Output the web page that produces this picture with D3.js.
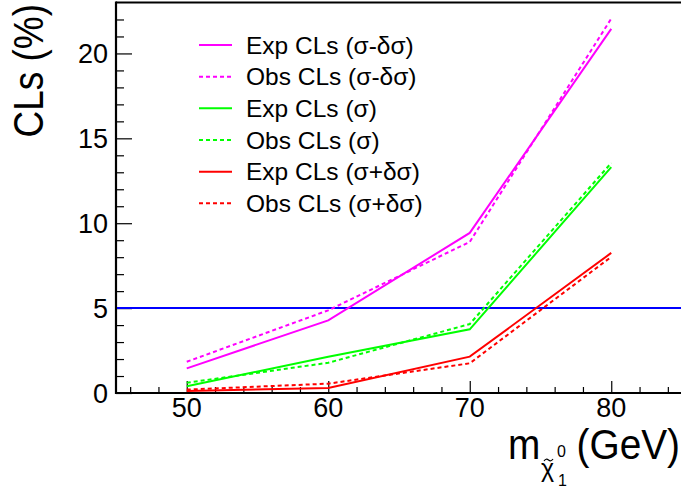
<!DOCTYPE html>
<html><head><meta charset="utf-8">
<script src="https://cdn.jsdelivr.net/npm/d3@7"></script>
<style>body{margin:0;background:#fff}svg{display:block}text{font-family:"Liberation Sans",Arial,sans-serif;fill:#000}</style>
</head><body>
<svg id="c" width="681" height="489"></svg>
<script>
const masses = [50, 60, 70, 80];
const expMinus = [1.45, 4.28, 9.43, 21.45];
const obsMinus = [1.84, 4.87, 8.9, 22.05];
const expNom = [0.4, 2.14, 3.75, 13.3];
const obsNom = [0.6, 1.78, 4.06, 13.55];
const expPlus = [0.12, 0.3, 2.14, 8.25];
const obsPlus = [0.2, 0.55, 1.75, 8.02];
const limit = 5;
const xTicks = [50, 60, 70, 80];
const yTicks = [0, 5, 10, 15, 20];
const seriesNames = ["Exp CLs (σ-δσ)", "Obs CLs (σ-δσ)", "Exp CLs (σ)", "Obs CLs (σ)", "Exp CLs (σ+δσ)", "Obs CLs (σ+δσ)"];
const seriesColors = ["#ff00ff", "#ff00ff", "#00ff00", "#00ff00", "#ff0000", "#ff0000"];
const seriesDashed = [false, true, false, true, false, true];
const seriesValues = [expMinus, obsMinus, expNom, obsNom, expPlus, obsPlus];

const svg = d3.select("#c");
const L = 116, B = 393, T = 2.5, R = 682;
const x = d3.scaleLinear().domain([45, 85]).range([L, R]);
const y = d3.scaleLinear().domain([0, 23]).range([B, T]);

// frame top
svg.append("line").attr("x1", L).attr("x2", 681).attr("y1", T).attr("y2", T).attr("stroke", "#000").attr("stroke-width", 2);

// x axis
const xa = svg.append("g").attr("transform", `translate(0,${B})`);
xa.call(d3.axisBottom(x).tickValues(d3.range(46, 85, 2)).tickSize(-6).tickFormat(""));
xa.call(g => g.selectAll(".tick").filter(d => d % 10 === 0).select("line").attr("y2", -12));
xa.select(".domain").remove();
xa.selectAll("line").attr("stroke", "#000").attr("stroke-width", 1.2);
svg.append("line").attr("x1", L - 1).attr("x2", 681).attr("y1", B).attr("y2", B).attr("stroke", "#000").attr("stroke-width", 2.2);
svg.append("g").selectAll("text").data(xTicks).join("text")
  .attr("x", d => x(d)).attr("y", 417).attr("text-anchor", "middle").attr("font-size", 27).text(d => d);

// y axis
const ya = svg.append("g").attr("transform", `translate(${L},0)`);
ya.call(d3.axisLeft(y).tickValues(d3.range(0, 23, 1)).tickSize(-8).tickFormat(""));
ya.call(g => g.selectAll(".tick").filter(d => d % 5 === 0).select("line").attr("x2", 16));
ya.select(".domain").remove();
ya.selectAll("line").attr("stroke", "#000").attr("stroke-width", 1.2);
svg.append("line").attr("x1", L).attr("x2", L).attr("y1", T - 1).attr("y2", B + 1).attr("stroke", "#000").attr("stroke-width", 2.2);
svg.append("g").selectAll("text").data(yTicks).join("text")
  .attr("x", 108).attr("y", d => y(d) + 9.7).attr("text-anchor", "end").attr("font-size", 27).text(d => d);

// limit line
svg.append("line").attr("x1", L + 1).attr("x2", 681).attr("y1", y(limit)).attr("y2", y(limit)).attr("stroke", "#0000ff").attr("stroke-width", 2);

// series
const line = d3.line().x((d, i) => x(masses[i])).y(d => y(d));
seriesValues.forEach((vals, k) => {
  svg.append("path").attr("d", line(vals)).attr("fill", "none")
    .attr("stroke", seriesColors[k]).attr("stroke-width", 2)
    .attr("stroke-dasharray", seriesDashed[k] ? "4,3" : null);
});

// legend
const lg = svg.append("g");
seriesNames.forEach((n, k) => {
  const yy = 45 + k * 31.67;
  lg.append("line").attr("x1", 199).attr("x2", 232).attr("y1", yy).attr("y2", yy)
    .attr("stroke", seriesColors[k]).attr("stroke-width", 2)
    .attr("stroke-dasharray", seriesDashed[k] ? "4,3" : null);
  lg.append("text").attr("x", 246).attr("y", yy + 8.5).attr("font-size", 24.5).text(n);
});

// axis titles
svg.append("text").attr("transform", "translate(43,4) rotate(-90) scale(1,1.15)").attr("text-anchor", "end")
  .attr("font-size", 37).text("CLs (%)");
svg.append("text").attr("transform", "translate(680,459) scale(0.97,1.08)").attr("text-anchor", "end").attr("font-size", 40).text("(GeV)");
svg.append("text").attr("transform", "translate(508,459) scale(0.97,1.08)").attr("font-size", 40).text("m");
svg.append("text").attr("x", 541).attr("y", 477).attr("font-size", 25).text("χ");
// tilde accent over chi
svg.append("path").attr("d", "M544,461 q2,-3 4.5,-1 t4.5,-1").attr("fill", "none").attr("stroke", "#000").attr("stroke-width", 1.2);
svg.append("text").attr("x", 557).attr("y", 457).attr("font-size", 16).text("0");
svg.append("text").attr("x", 558).attr("y", 486).attr("font-size", 16).text("1");
</script>
</body></html>
